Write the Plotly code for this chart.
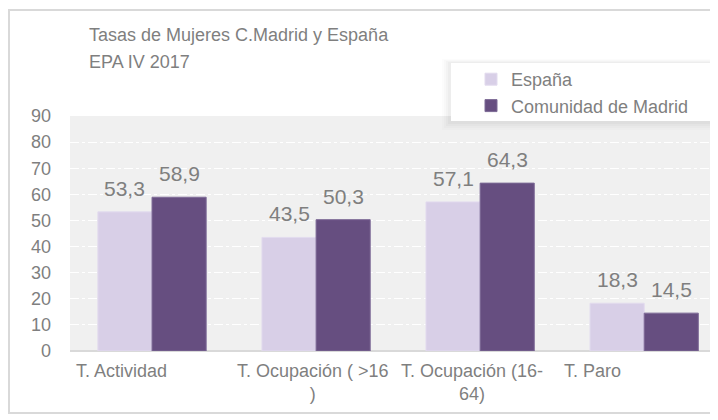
import plotly.graph_objects as go

# ---- data ----
categories = ["T. Actividad", "T. Ocupación ( >16 )", "T. Ocupación (16-64)", "T. Paro"]
tick_labels = ["T. Actividad", "T. Ocupación ( >16<br>)", "T. Ocupación (16-<br>64)", "T. Paro"]
label_shift = [-31, -3, -8, -52]
series_names = ["España", "Comunidad de Madrid"]
espana = [53.3, 43.5, 57.1, 18.3]
madrid = [58.9, 50.3, 64.3, 14.5]
y_ticks = [0, 10, 20, 30, 40, 50, 60, 70, 80, 90]
title_text = "Tasas de Mujeres C.Madrid y España"
subtitle_text = "EPA IV 2017"

# ---- style ----
OX, OY = 8, 8              # default page body margin
W, H = 718 - OX, 420 - OY
# plot area in window pixels: x 70..726 (clipped at 718), y 116..351
L, T = 70 - OX, 116 - OY
B = H - (351 - OY)
R = 0
PW, PH = W - L - R, H - T - B
TXT = "#7f7f7f"
FONT = "Liberation Sans, Arial, sans-serif"
C_ES = "#d8cfe7"
C_MD = "#664e80"
BARGAP = 0.34


def px(x):
    return (x - OX - L) / PW


def py(y):
    return (H - B - (y - OY)) / PH


def fmt(v):
    return f"{v:.1f}".replace(".", ",")


fig = go.Figure()
fig.add_trace(go.Bar(name=series_names[0], x=categories, y=espana,
                     marker=dict(color=C_ES, line=dict(color="#e2dbee", width=1))))
fig.add_trace(go.Bar(name=series_names[1], x=categories, y=madrid,
                     marker=dict(color=C_MD, line=dict(color="#7d6a96", width=1))))

annotations = []
off = (1 - BARGAP) / 4
for s, vals in enumerate([espana, madrid]):
    sign = -1 if s == 0 else 1
    for i, v in enumerate(vals):
        annotations.append(dict(x=i + sign * off, y=v, xref="x", yref="y", text=fmt(v),
                                showarrow=False, yanchor="bottom", yshift=10,
                                font=dict(family=FONT, size=21, color=TXT)))
for i, t in enumerate(tick_labels):
    annotations.append(dict(x=i, y=0, xref="x", yref="paper", text=t, showarrow=False,
                            yanchor="top", yshift=-8, xshift=label_shift[i],
                            font=dict(family=FONT, size=18, color=TXT)))
# title lines
annotations.append(dict(x=px(87), y=py(35), xref="paper", yref="paper", text=title_text,
                        showarrow=False, xanchor="left", yanchor="middle",
                        font=dict(family=FONT, size=18, color=TXT)))
annotations.append(dict(x=px(87), y=py(62), xref="paper", yref="paper", text=subtitle_text,
                        showarrow=False, xanchor="left", yanchor="middle",
                        font=dict(family=FONT, size=18, color=TXT)))

shapes = [
    # chart border
    dict(type="rect", xref="paper", yref="paper", x0=px(9), x1=px(760), y0=py(10), y1=py(413),
         line=dict(color="#d9d9d9", width=2), fillcolor="rgba(0,0,0,0)", layer="below"),
]
# legend box shadow + box
for k, a in enumerate([0.012, 0.016, 0.02, 0.025]):
    shapes.append(dict(type="rect", xref="paper", yref="paper",
                       x0=px(442 + 2 * k), x1=px(760), y0=py(59 + k), y1=py(130 - 2 * k),
                       line=dict(width=0), fillcolor=f"rgba(0,0,0,{a})", layer="above"))
shapes.append(dict(type="rect", xref="paper", yref="paper", x0=px(451), x1=px(760),
                   y0=py(63), y1=py(121), line=dict(width=0), fillcolor="white", layer="above"))

fig.update_layout(
    width=W, height=H,
    margin=dict(l=L, r=R, t=T, b=B, autoexpand=False),
    paper_bgcolor="white", plot_bgcolor="#f0f0f0",
    barmode="group", bargap=BARGAP, bargroupgap=0,
    legend=dict(x=px(471), y=py(61), xanchor="left", yanchor="top",
                bgcolor="rgba(0,0,0,0)", font=dict(family=FONT, size=18, color=TXT),
                tracegroupgap=0),
    xaxis=dict(range=[-0.5, 3.45], showticklabels=False, showgrid=False, ticks="",
               showline=False, zeroline=False),
    yaxis=dict(range=[0, 90], tickvals=y_ticks, ticks="", showgrid=True,
               gridcolor="white", griddash="dashdot", gridwidth=1,
               zeroline=True, zerolinecolor="#d9d9d9", zerolinewidth=2,
               showline=False, ticklabelstandoff=18,
               tickfont=dict(family=FONT, size=18, color=TXT)),
    annotations=annotations,
    shapes=shapes,
    showlegend=True,
)

fig.write_html("out.html")
